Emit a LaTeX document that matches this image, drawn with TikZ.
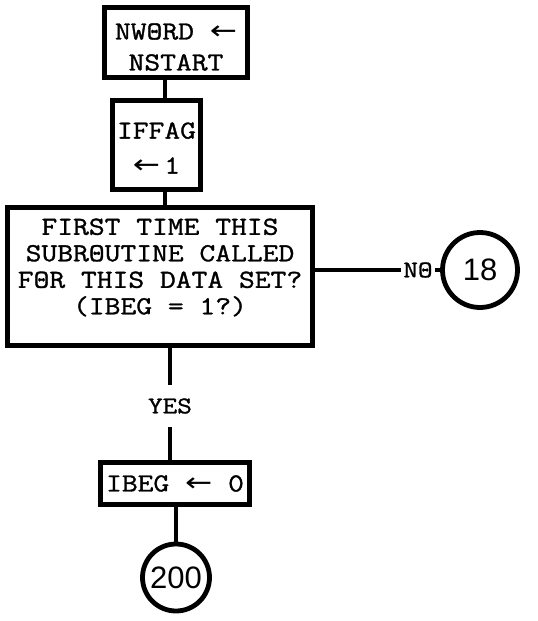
\documentclass[tikz,border=0pt]{standalone}
\usepackage{fontspec}
\newfontfamily\tw[FakeStretch=1.18, FakeBold=1.2]{Latin Modern Mono}
\newfontfamily\numfont{Liberation Sans}
\newfontfamily\symfont{DejaVu Sans}
\newcommand\getsarrow{\scalebox{1.25}[1]{\symfont ←}}
\begin{document}
\begin{tikzpicture}[x=1pt, y=-1pt, line width=4.8pt,
  box/.style={draw, rectangle, inner sep=0pt},
  txt/.style={inner sep=0pt, align=center},
  tt/.style={font={\tw\fontsize{26}{#1}\selectfont}},
  lbl/.style={inner sep=0pt, font={\tw\fontsize{24}{26}\selectfont}},
  conn/.style={circle, draw, inner sep=0pt, font={\numfont\fontsize{31}{31}\selectfont}}]
\useasboundingbox (0,0) rectangle (538,621);

% process boxes (frames)
\node[box, minimum width=143.5pt, minimum height=70.5pt] (init) at (176,42.5) {};
\node[box, minimum width=88.5pt, minimum height=89.5pt] (flag) at (156.5,145) {};
\node[box, minimum width=305.5pt, minimum height=138.5pt] (test) at (160,276.5) {};
\node[box, minimum width=149.5pt, minimum height=42.5pt] (reset) at (175,483.5) {};

% box texts
\node[txt, tt=31] (initText) at ([yshift=-4.5pt]init.center) {NWΘRD \getsarrow\\NSTART};
\node[txt, tt=35] (flagText) at ([yshift=-3pt]flag.center) {IFFAG\\\getsarrow\,1};
\node[txt, tt=26.5] (testText) at ([yshift=9pt]test.center)
  {FIRST TIME THIS\\SUBRΘUTINE CALLED\\FΘR THIS DATA SET?\\(IBEG = 1?)};
\node[txt, tt=26] (resetText) at (reset.center) {IBEG \getsarrow\ 0};

% branch labels
\node[lbl, minimum height=38pt] (yes) at (170,406) {YES};
\node[lbl, minimum width=30pt] (no) at (418,270) {NΘ};

% off-page connectors
\node[conn, minimum size=75pt] (c18) at (480,270) {18};
\node[conn, minimum size=67pt] (c200) at (176,577.5) {200};

% flow lines
\coordinate (spine) at (165,0);
\coordinate (spineb) at (170,0);
\draw (init.south -| spine) -- (flag.north -| spine);
\draw (flag.south -| spine) -- (test.north -| spine);
\draw (test.south -| spineb) -- (yes.north -| spineb);
\draw (yes.south -| spineb) -- (reset.north -| spineb);
\draw (reset.south -| c200) -- (c200.north);
\draw (test.east |- no) -- (no.west);
\draw (no.east) -- (c18.west |- no);
\end{tikzpicture}
\end{document}
